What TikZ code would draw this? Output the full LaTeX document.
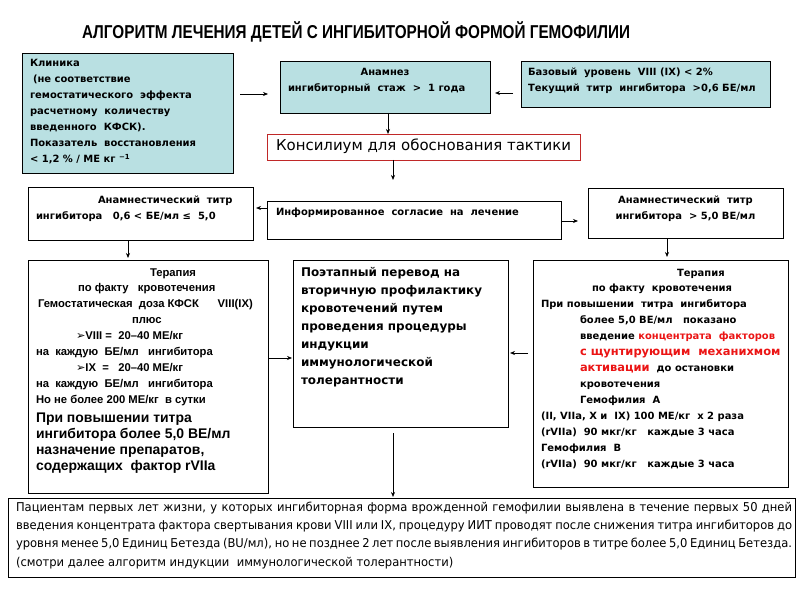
\documentclass[tikz,border=0pt]{standalone}
\usepackage{graphicx}
\usepackage{fontspec}
\setmainfont{DejaVu Sans}
\newfontfamily\ar{Liberation Sans}
\newfontfamily\arn[FakeStretch=0.82]{Liberation Sans}
\newfontfamily\dvn[FakeStretch=0.95]{DejaVu Sans}
\usetikzlibrary{arrows.meta}
\definecolor{lblue}{RGB}{185,224,226}
\definecolor{kred}{RGB}{192,40,40}
\definecolor{tred}{RGB}{235,20,20}
\newcommand{\smf}{\fontsize{10}{16}\selectfont\bfseries}
\newcommand{\arf}{\ar\fontsize{11.3}{16}\selectfont\bfseries}
\newcommand{\ws}{\ }
\tikzset{
  box/.style={draw=black, line width=0.8bp, inner sep=0pt, outer sep=0pt, anchor=north west},
  bluebox/.style={box, fill=lblue},
  arr/.style={-{Stealth[length=5bp,width=4bp]}, line width=0.7bp},
  tx/.style={inner sep=0pt, outer sep=0pt, anchor=base west},
}
\begin{document}
\begin{tikzpicture}[x=1bp,y=-1bp]
\useasboundingbox (0,0) rectangle (800,600);
\fill[white] (0,0) rectangle (800,600);
% title
\node[tx] (title) at (82,39) {\resizebox{548bp}{!}{\arn\bfseries\fontsize{16}{18}\selectfont АЛГОРИТМ ЛЕЧЕНИЯ ДЕТЕЙ С ИНГИБИТОРНОЙ ФОРМОЙ ГЕМОФИЛИИ}};
% boxes
\node[bluebox, minimum width=211bp, minimum height=120bp] (klin) at (22,53) {};
\node[bluebox, minimum width=210bp, minimum height=52bp] (anam) at (280,61) {};
\node[bluebox, minimum width=249bp, minimum height=46bp] (baz) at (521,61) {};
\node[box, draw=kred, fill=white, minimum width=313bp, minimum height=26bp] (kons) at (267,134) {};
\node[box, minimum width=225bp, minimum height=53bp] (leftA) at (28,187) {};
\node[box, minimum width=294bp, minimum height=38bp] (inf) at (267,201) {};
\node[box, minimum width=195bp, minimum height=50bp] (rightA) at (588,188) {};
\node[box, minimum width=240bp, minimum height=233bp] (leftT) at (28,260) {};
\node[box, minimum width=215bp, minimum height=167bp] (cent) at (293,260) {};
\node[box, minimum width=255bp, minimum height=227bp] (rightT) at (533,260) {};
\node[box, minimum width=787bp, minimum height=79bp] (bot) at (8,498) {};
% texts
\node[tx] (tklin) at (30,67) {\parbox[t]{200bp}{\smf Клиника\\
\hspace*{3bp}(не соответствие\\
гемостатического\ws\ws эффекта\\
расчетному\ws\ws количеству\\
введенного\ws\ws КФСК).\\
Показатель\ws\ws восстановления\\
< 1,2 \% / МЕ кг \textsuperscript{−1}}};
\node[tx, anchor=base] (tanam1) at (385,76) {\smf Анамнез};
\node[tx] (tanam2) at (288,92) {\smf ингибиторный\ws\ws стаж\ws\ws >\ws\ws 1 года};
\node[tx] (tbaz) at (528,76) {\parbox[t]{240bp}{\smf Базовый\ws\ws уровень\ws\ws VIII (IX) < 2\%\\
Текущий\ws\ws титр\ws\ws ингибитора\ws\ws >0,6 БЕ/мл}};
\node[tx] (tkons) at (276,151) {\fontsize{15}{18}\selectfont Консилиум для обоснования тактики};
\node[tx] (tleftA) at (36,204) {\parbox[t]{215bp}{\smf \hspace*{62bp}Анамнестический\ws\ws титр\\
ингибитора\ws\ws\ws 0,6 < БЕ/мл ≤\ws\ws 5,0}};
\node[tx] (tinf) at (276,216) {\smf Информированное\ws\ws согласие\ws\ws на\ws\ws лечение};
\node[tx] (trightA) at (590.5,204) {\parbox[t]{190bp}{\centering\smf Анамнестический\ws\ws титр\\
ингибитора\ws\ws > 5,0 ВЕ/мл}};
\node[tx] (tleftT) at (36,276) {\parbox[t]{228bp}{\arf \hspace*{114bp}Терапия\\
\hspace*{42bp}по факту\ws\ws\ws кровотечения\\
\hspace*{2bp}Гемостатическая\ws\ws доза КФСК\ws\ws\ws\ws\ws\ws VIII(IX)\\
\hspace*{96bp}плюс\\
\hspace*{40bp}{\rmfamily\mdseries ➢}VIII =\ws\ws 20–40 МЕ/кг\\
на\ws\ws каждую\ws\ws БЕ/мл\ws\ws\ws ингибитора\\
\hspace*{40bp}{\rmfamily\mdseries ➢}IX\ws\ws =\ws\ws\ws 20–40 МЕ/кг\\
на\ws\ws каждую\ws\ws БЕ/мл\ws\ws\ws ингибитора\\
Но не более 200 МЕ/кг\ws\ws в сутки}};
\node[tx] (tleftT2) at (36,422.5) {\parbox[t]{228bp}{\ar\fontsize{14}{16}\selectfont\bfseries При повышении\ws титра\\
ингибитора\ws более 5,0 ВЕ/мл\\
назначение препаратов,\\
содержащих\ws\ws фактор rVIIa}};
\node[tx] (tcent) at (301,276.5) {\parbox[t]{205bp}{\fontsize{12}{18}\selectfont\bfseries Поэтапный перевод на\\
вторичную профилактику\\
кровотечений путем\\
проведения процедуры\\
индукции\\
иммунологической\\
толерантности}};
\node[tx] (trightT) at (541,276) {\parbox[t]{245bp}{\smf \hspace*{136bp}Терапия\\
\hspace*{51bp}по факту\ws\ws кровотечения\\
При повышении\ws\ws титра\ws\ws ингибитора\\
\hspace*{39bp}более 5,0 ВЕ/мл\ws\ws\ws показано\\
\hspace*{39bp}введение {\color{tred}концентрата\ws\ws факторов}\\
\hspace*{39bp}{\color{tred}\fontsize{11.5}{16}\selectfont с щунтирующим\ws\ws механихмом}\\
\hspace*{39bp}{\color{tred}\fontsize{11.5}{16}\selectfont активации}\ws\ws до остановки\\
\hspace*{39bp}кровотечения\\
\hspace*{39bp}Гемофилия\ws\ws А\\
(II, VIIa, X и\ws\ws IX) 100 МЕ/кг\ws\ws х 2 раза\\
(rVIIa)\ws\ws 90 мкг/кг\ws\ws\ws каждые 3 часа\\
Гемофилия\ws\ws В\\
(rVIIa)\ws\ws 90 мкг/кг\ws\ws\ws каждые 3 часа}};
\node[tx] (tbot) at (16,511) {\parbox[t]{776bp}{\dvn\fontsize{12.2}{18.5}\selectfont\tolerance=10000\hyphenpenalty=10000\parindent=0pt
Пациентам первых лет жизни, у которых ингибиторная форма врожденной гемофилии выявлена в течение первых 50 дней\linebreak
введения концентрата фактора свертывания крови VIII или IX, процедуру ИИТ проводят после снижения титра ингибиторов до\linebreak
уровня менее 5,0 Единиц Бетезда (BU/мл), но не позднее 2 лет после выявления ингибиторов в титре более 5,0 Единиц Бетезда.\linebreak
(смотри далее алгоритм индукции\ws\ws иммунологической\ws толерантности)}};
% helper coordinates
\coordinate (h94) at (0,94);
\coordinate (h93) at (0,93);
\coordinate (v388) at (388,0);
\coordinate (v393) at (393,0);
\coordinate (h208) at (0,208);
\coordinate (h221) at (0,221);
\coordinate (v128) at (128,0);
\coordinate (v667) at (667,0);
\coordinate (h358) at (0,358);
\coordinate (h353) at (0,353);
% connectors
\draw[arr, shorten <=7bp, shorten >=12bp] (klin.east |- h94) -- (anam.west |- h94);
\draw[arr, shorten <=8bp, shorten >=5bp] (baz.west |- h93) -- (anam.east |- h93);
\draw[arr] (anam.south -| v388) -- (kons.north -| v388);
\draw[arr, shorten >=21bp] (kons.south -| v393) -- (inf.north -| v393);
\draw[arr, shorten >=3bp] (inf.west |- h208) -- (leftA.east |- h208);
\draw[arr, shorten >=10bp] (inf.east |- h221) -- (rightA.west |- h221);
\draw[arr, shorten >=2bp] (leftA.south -| v128) -- (leftT.north -| v128);
\draw[arr, shorten >=3bp] (rightA.south -| v667) -- (rightT.north -| v667);
\draw[arr, shorten >=1bp] (leftT.east |- h358) -- (cent.west |- h358);
\draw[arr, shorten <=5bp, shorten >=2bp] (rightT.west |- h353) -- (cent.east |- h353);
\draw[arr, shorten <=6bp, shorten >=1bp] (cent.south -| v393) -- (bot.north -| v393);
\end{tikzpicture}
\end{document}
